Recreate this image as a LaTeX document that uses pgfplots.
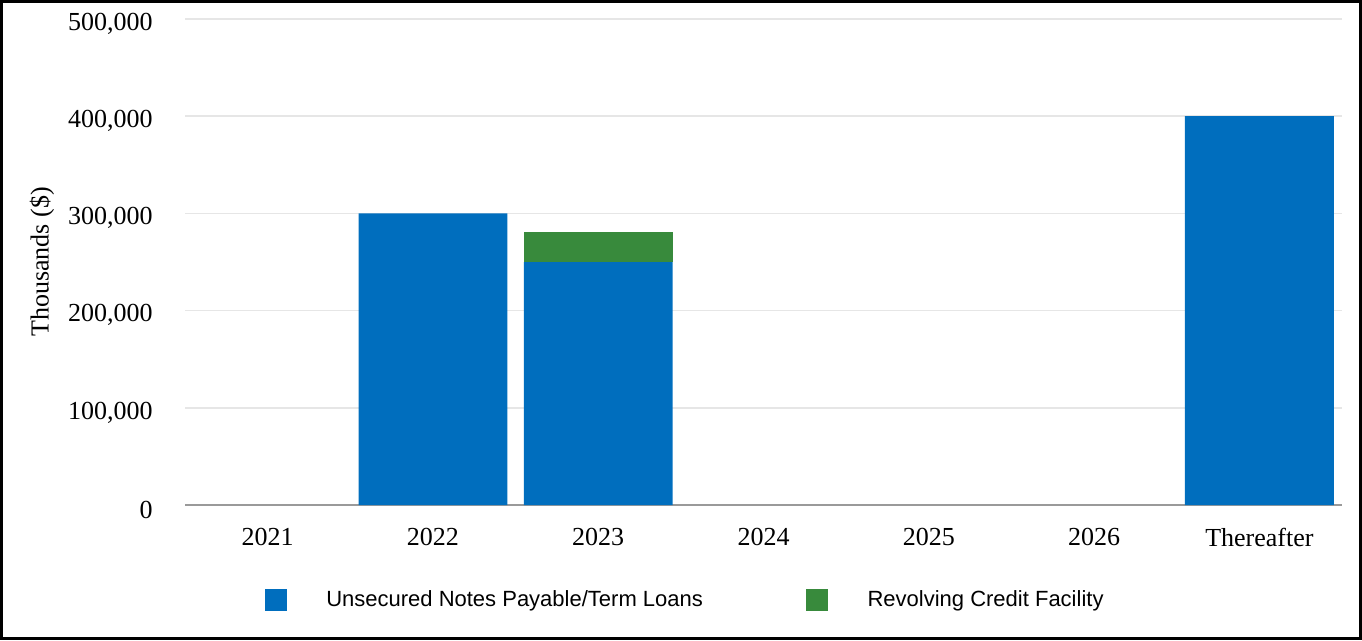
\documentclass[border=0pt]{standalone}
\usepackage{pgfplots}
\pgfplotsset{compat=1.18}
\usepackage{fontspec}
\setmainfont{Liberation Serif}
\newfontfamily\arialfont{Liberation Sans}
\definecolor{barblue}{HTML}{006EBE}
\definecolor{bargreen}{HTML}{388A3C}
\definecolor{gridgray}{HTML}{E6E6E6}
\definecolor{axisgray}{HTML}{9A9A9A}
\begin{document}
\begin{tikzpicture}
\useasboundingbox (0,0) rectangle (1021.5pt,480pt);
\draw[line width=2.4pt] (1.2pt,1.2pt) rectangle (1020.3pt,478.8pt);
\begin{axis}[
  at={(138.75pt,101.25pt)}, anchor=south west,
  scale only axis, width=867.75pt, height=364.5pt,
  ybar stacked, bar width=0.9,
  xmin=-0.5, xmax=6.5, ymin=0, ymax=500000,
  xtick={0,1,2,3,4,5,6},
  xticklabels={2021,2022,2023,2024,2025,2026,Thereafter},
  ytick={0,100000,200000,300000,400000,500000},
  scaled y ticks=false,
  /pgf/number format/.cd, fixed, 1000 sep={,}, assume math mode=true, /pgfplots/.cd,
  axis x line*=bottom, axis y line*=left,
  y axis line style={draw=none},
  x axis line style={draw=axisgray, line width=1pt, -},
  tick style={draw=none},
  ymajorgrids, major grid style={draw=gridgray, line width=1.1pt},
  tick label style={font=\fontsize{19.5}{23}\selectfont, inner sep=0pt},
  yticklabel style={anchor=east, yshift=-3.5pt},
  yticklabel shift=24pt,
  xticklabel style={anchor=north},
  xticklabel shift=17.5pt,
  ylabel={Thousands (\$)},
  every axis y label/.style={at={(axis description cs:-0.1236,0.5)}, rotate=90, anchor=center, font=\fontsize{19.5}{23}\selectfont},
  legend columns=2,
  legend style={at={(axis description cs:0.0691,-0.1955)}, anchor=west, draw=none, fill=none,
    inner sep=0pt, outer sep=0pt, font=\arialfont\fontsize{16.5}{20}\selectfont,
    nodes={inner sep=0pt, anchor=west},
    /tikz/every odd column/.append style={column sep=29.5pt},
    /tikz/every even column/.append style={column sep=77.5pt}},
  legend image code/.code={\fill[#1] (0pt,-8.25pt) rectangle (16.5pt,8.25pt);},
]
\addplot[fill=barblue, draw=none] coordinates {(0,0) (1,300000) (2,250000) (3,0) (4,0) (5,0) (6,400000)};
\addlegendentry{Unsecured Notes Payable/Term Loans}
\addplot[fill=bargreen, draw=none] coordinates {(0,0) (1,0) (2,31000) (3,0) (4,0) (5,0) (6,0)};
\addlegendentry{Revolving Credit Facility}
\end{axis}
\end{tikzpicture}
\end{document}
